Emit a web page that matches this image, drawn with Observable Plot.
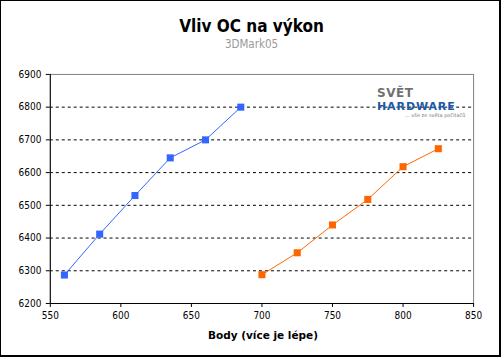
<!DOCTYPE html>
<html><head><meta charset="utf-8">
<script src="https://cdn.jsdelivr.net/npm/d3@7"></script>
<script src="https://cdn.jsdelivr.net/npm/@observablehq/plot@0.6"></script>
<style>
html,body{margin:0;padding:0;background:#fff;}
#wrap{position:absolute;left:0;top:0;width:501px;height:357px;box-sizing:border-box;border:1px solid #000;border-bottom-width:2px;border-right-width:2px;overflow:hidden;font-family:"DejaVu Sans Condensed","DejaVu Sans",sans-serif;}
#title{position:absolute;left:0;width:501px;top:15px;text-align:center;font-weight:bold;font-size:17px;color:#000;}
#sub{position:absolute;left:0;width:501px;top:36px;text-align:center;font-size:11.5px;color:#999;}
#chart{position:absolute;left:-1px;top:54px;}
#xlabel{position:absolute;left:49px;width:426px;top:328px;text-align:center;font-weight:bold;font-size:10.5px;color:#000;font-family:"DejaVu Sans",sans-serif;}
.lg{position:absolute;font-family:"DejaVu Sans","Liberation Sans",sans-serif;white-space:nowrap;}
#ls{left:376px;top:86px;font-weight:bold;font-size:12px;line-height:13px;color:#707070;letter-spacing:0.5px;}
#lh{left:376px;top:100px;font-weight:bold;font-size:11px;line-height:11px;color:#1c5aa6;letter-spacing:0.9px;}
#lt{left:404px;top:111px;font-size:5px;line-height:6px;color:#777;}
</style></head>
<body>
<div id="wrap">
<div id="title">Vliv OC na výkon</div>
<div id="sub">3DMark05</div>
<div id="chart"></div>
<div class="lg" id="ls">SVĚT</div>
<div class="lg" id="lh">HARDWARE</div>
<div class="lg" id="lt">... vše ze světa počítačů</div>
<div id="xlabel">Body (více je lépe)</div>
</div>
<script>
const bodyBlue = [560, 585, 610, 635, 660, 685];
const scoreBlue = [6287, 6412, 6530, 6645, 6700, 6800];
const bodyOrange = [700, 725, 750, 775, 800, 825];
const scoreOrange = [6288, 6355, 6440, 6518, 6618, 6673];
const xTicks = [550, 600, 650, 700, 750, 800, 850];
const yTicks = [6200, 6300, 6400, 6500, 6600, 6700, 6800, 6900];
const gridTicks = [6300, 6400, 6500, 6600, 6700, 6800];
const blueColor = "#3366ff";
const orangeColor = "#ff6600";

const blue = bodyBlue.map((b, i) => ({body: b, score: scoreBlue[i]}));
const orange = bodyOrange.map((b, i) => ({body: b, score: scoreOrange[i]}));

const chart = Plot.plot({
  width: 501,
  height: 300,
  marginLeft: 50,
  marginRight: 26,
  marginTop: 19,
  marginBottom: 51,
  style: {fontFamily: "'DejaVu Sans Condensed','DejaVu Sans',sans-serif", fontSize: "10px", color: "#000", background: "transparent"},
  x: {domain: [550, 850], label: null},
  y: {domain: [6200, 6900], label: null},
  marks: [
    Plot.ruleY(gridTicks, {stroke: "#000", strokeDasharray: "3,3", strokeWidth: 1}),
    Plot.frame({stroke: "#808080", strokeWidth: 1}),
    Plot.ruleX([550], {stroke: "#000", strokeWidth: 1}),
    Plot.ruleY([6200], {stroke: "#000", strokeWidth: 1}),
    Plot.axisX({ticks: xTicks, tickSize: 4, tickPadding: 4, tickFormat: d => String(d), fontSize: 10}),
    Plot.axisY({ticks: yTicks, tickSize: 4, tickPadding: 5, tickFormat: d => String(d), fontSize: 10}),
    Plot.line(blue, {x: "body", y: "score", stroke: blueColor, strokeWidth: 1}),
    Plot.dot(blue, {x: "body", y: "score", symbol: "square", r: 4, fill: blueColor, stroke: "none"}),
    Plot.line(orange, {x: "body", y: "score", stroke: orangeColor, strokeWidth: 1}),
    Plot.dot(orange, {x: "body", y: "score", symbol: "square", r: 4, fill: orangeColor, stroke: "none"})
  ]
});
document.getElementById("chart").appendChild(chart);
</script>
</body></html>
